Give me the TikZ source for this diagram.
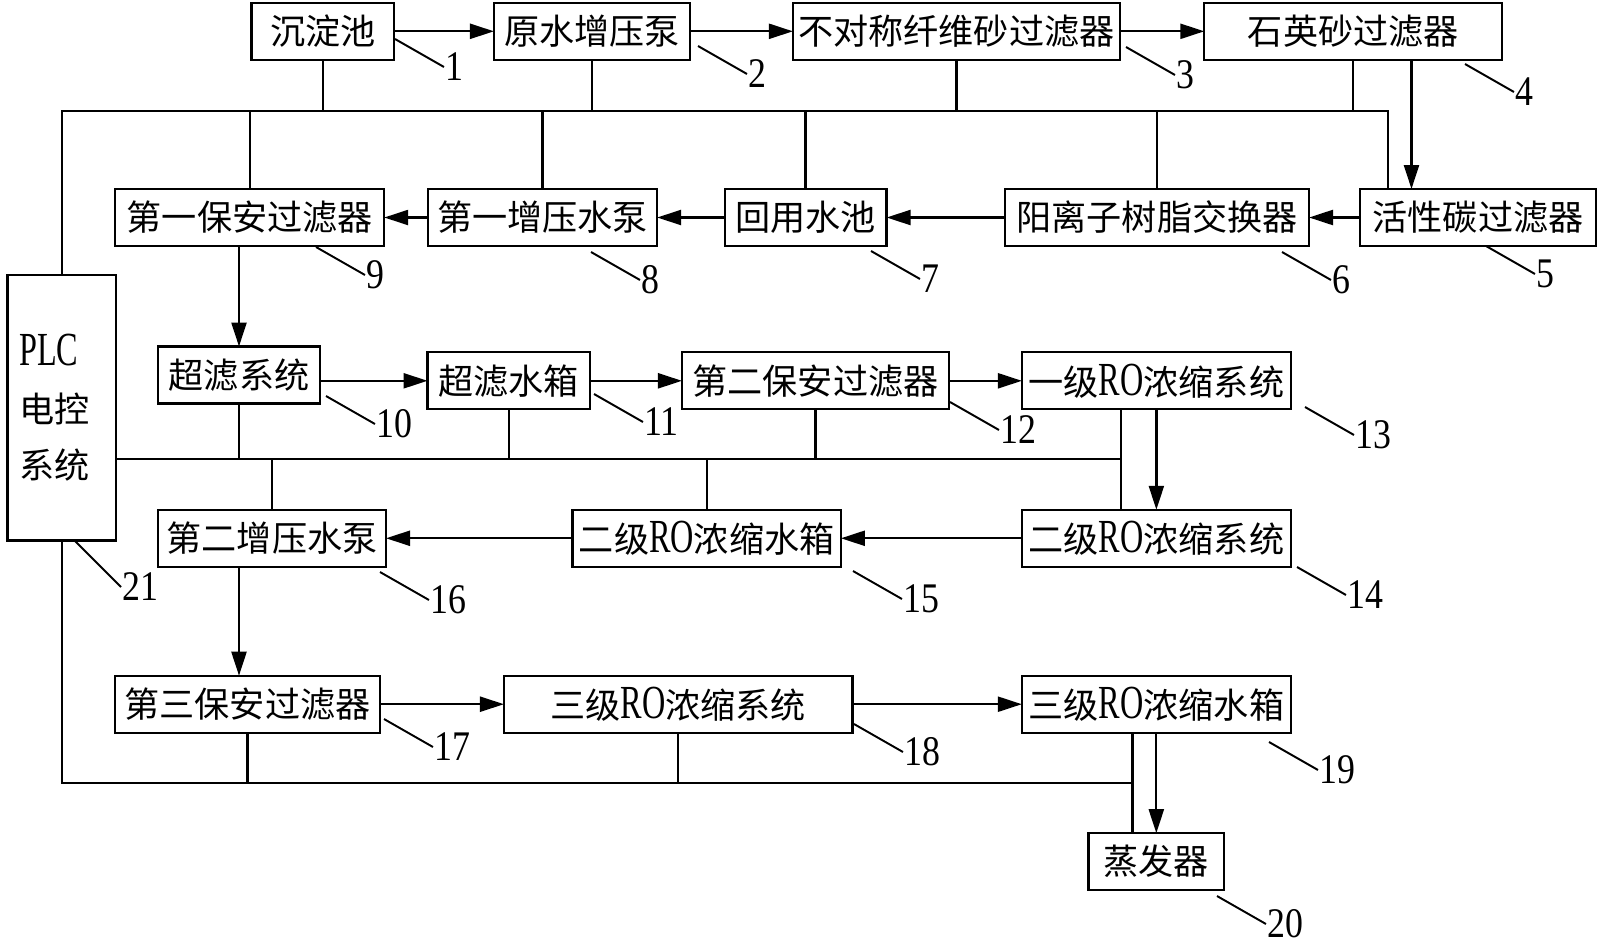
\documentclass[tikz,border=0pt]{standalone}
\usepackage{fontspec}
\newfontfamily\cjk{Noto Sans CJK SC}
\newfontfamily\numfont[FakeStretch=0.85]{Liberation Serif}
\newfontfamily\plcfont[FakeStretch=0.68,Scale=1.35]{Liberation Serif}
\usetikzlibrary{arrows.meta,positioning}

\begin{document}
\begin{tikzpicture}[x=0.02cm,y=-0.02cm,>={Triangle[length=0.48cm,width=0.3cm]},
    line width=1.3pt,
    box/.style={rectangle,draw,align=center,inner sep=2pt,outer sep=0pt,
      font=\cjk\fontsize{20pt}{24pt}\selectfont,minimum height=1.14cm},
    num/.style={anchor=west,inner sep=0pt,
      font=\numfont\fontsize{24pt}{24pt}\selectfont},
    flow/.style={->},
    lead/.style={line width=1.1pt}]
\useasboundingbox (0,0) rectangle (1600,944);

% first row
\node[box,minimum width=2.85cm] (chendian) at (322.75,31.3) {沉淀池};
\node[box,minimum width=3.92cm,right=2cm of chendian] (pump0) {原水增压泵};
\node[box,minimum width=6.54cm,right=2.06cm of pump0] (fiber) {不对称纤维砂过滤器};
\node[box,minimum width=5.96cm,right=1.69cm of fiber] (quartz) {石英砂过滤器};

% second row, right to left
\node[box,minimum width=4.72cm] (carbon) at (1478,217.5) {活性碳过滤器};
\node[box,minimum width=6.08cm,left=1.02cm of carbon] (resin) {阳离子树脂交换器};
\node[box,minimum width=3.24cm,left=2.37cm of resin] (reuse) {回用水池};
\node[box,minimum width=4.59cm,left=1.35cm of reuse] (boost1) {第一增压水泵};
\node[box,minimum width=5.38cm,left=0.87cm of boost1] (guard1) {第一保安过滤器};

% third row
\node[box,minimum width=3.24cm] (uf) at (239,375) {超滤系统};
\node[box,minimum width=3.25cm] (uftank) at (508.75,380.8) {超滤水箱};
\node[box,minimum width=5.34cm,right=1.84cm of uftank] (guard2) {第二保安过滤器};
\node[box,minimum width=5.38cm,right=1.46cm of guard2] (ro1) {一级{\plcfont RO}浓缩系统};

% fourth row
\node[box,minimum width=5.38cm,below=2.01cm of ro1] (ro2) {二级{\plcfont RO}浓缩系统};
\node[box,minimum width=5.37cm,left=3.62cm of ro2] (ro2tank) {二级{\plcfont RO}浓缩水箱};
\node[box,minimum width=4.56cm,left=3.73cm of ro2tank] (boost2) {第二增压水泵};

% fifth row
\node[box,minimum width=5.30cm] (guard3) at (247.5,704.2) {第三保安过滤器};
\node[box,minimum width=6.97cm,right=2.48cm of guard3] (ro3) {三级{\plcfont RO}浓缩系统};
\node[box,minimum width=5.38cm,right=3.39cm of ro3] (ro3tank) {三级{\plcfont RO}浓缩水箱};
\node[box,minimum width=2.71cm,below=2.01cm of ro3tank] (evap) {蒸发器};

% control unit
\node[box,minimum width=2.17cm,minimum height=5.31cm,text width=1.7cm,align=left,
  font=\cjk\fontsize{20pt}{32pt}\selectfont] (plc) at (61.75,407.85)
  {{\plcfont PLC}\\电控\\系统};

% water flow
\draw[flow] (chendian) -- (pump0);
\draw[flow] (pump0) -- (fiber);
\draw[flow] (fiber) -- (quartz);
\coordinate (qc) at ([xshift=1.164cm]quartz.south);
\draw[flow] (qc) -- (qc |- carbon.north);
\draw[flow] (carbon) -- (resin);
\draw[flow] (resin) -- (reuse);
\draw[flow] (reuse) -- (boost1);
\draw[flow] (boost1) -- (guard1);
\draw[flow] (guard1.south -| uf) -- (uf);
\draw[flow] (uf.east |- uftank) -- (uftank);
\draw[flow] (uftank) -- (guard2);
\draw[flow] (guard2) -- (ro1);
\draw[flow] (ro1) -- (ro2);
\draw[flow] (ro2) -- (ro2tank);
\draw[flow] (ro2tank) -- (boost2);
\draw[flow] (boost2.south -| uf) -- (guard3.north -| uf);
\draw[flow] (guard3) -- (ro3);
\draw[flow] (ro3) -- (ro3tank);
\draw[flow] (ro3tank) -- (evap);

% control lines
\coordinate (busB) at (1388,111);
\draw (plc.north) |- (busB) -- (busB |- carbon.north);
\foreach \n in {chendian,pump0,fiber,quartz}
  \draw (\n.south) -- (\n.south |- busB);
\foreach \n in {guard1,boost1,reuse,resin}
  \draw (\n.north) -- (\n.north |- busB);

\coordinate (busC) at (1121,459.3);
\draw (plc.east |- busC) -- (busC);
\draw (ro1.south -| busC) -- (ro2.north -| busC);
\foreach \n in {uf,uftank,guard2}
  \draw (\n.south) -- (\n.south |- busC);
\foreach \n in {boost2,ro2tank}
  \draw (\n.north) -- (\n.north |- busC);

\coordinate (busD) at (1132.6,783.3);
\draw (plc.south) |- (busD);
\draw (ro3tank.south -| busD) -- (evap.north -| busD);
\foreach \n in {guard3,ro3}
  \draw (\n.south) -- (\n.south |- busD);

% part numbers
\node[num] (n1) at (444,67) {1};
\node[num] (n2) at (747,74) {2};
\node[num] (n3) at (1175,75) {3};
\node[num] (n4) at (1514,92) {4};
\node[num] (n5) at (1535,274) {5};
\node[num] (n6) at (1331,280) {6};
\node[num] (n7) at (920,279) {7};
\node[num] (n8) at (640,280) {8};
\node[num] (n9) at (365,275) {9};
\node[num] (n10) at (375,424) {10};
\node[num] (n11) at (643,422) {11};
\node[num] (n12) at (999,430) {12};
\node[num] (n13) at (1354,435) {13};
\node[num] (n14) at (1346,595) {14};
\node[num] (n15) at (902,599) {15};
\node[num] (n16) at (429,600) {16};
\node[num] (n17) at (433,747) {17};
\node[num] (n18) at (903,752) {18};
\node[num] (n19) at (1318,770) {19};
\node[num] (n20) at (1266,924) {20};
\node[num] (n21) at (121,587) {21};
\foreach \i in {1,...,20}
  \draw[lead] (n\i.west) -- ++(-49,-28);
\draw[lead] (n21.west) -- ++(-47,-47);
\end{tikzpicture}
\end{document}
